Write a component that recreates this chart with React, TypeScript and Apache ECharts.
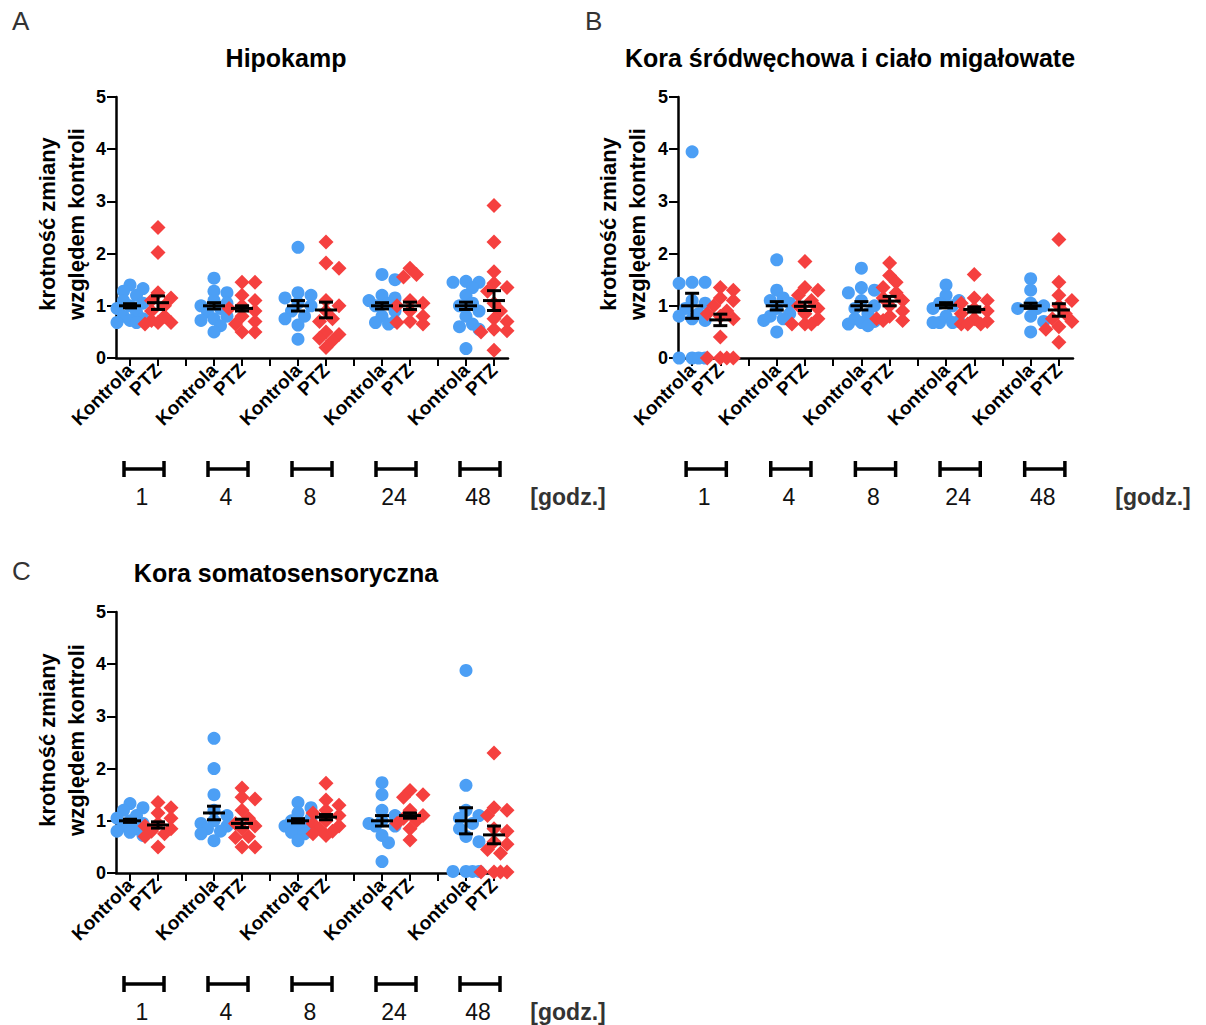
import React, { useEffect, useRef } from "react";
import * as echarts from "echarts";

// ---------- DATA ----------
const timeLabels = ["1", "4", "8", "24", "48"];
const groupLabels = ["Kontrola", "PTZ"];
const panelTitles = ["Hipokamp", "Kora śródwęchowa i ciało migałowate", "Kora somatosensoryczna"];
const panelLetters = ["A", "B", "C"];
const yTitle = "krotność zmiany\nwzględem kontroli";
const unitLabel = "[godz.]";

// Panel A – Hipokamp
const hipKontrola = [
  [1.40, 1.33, 1.28, 1.20, 1.10, 1.05, 1.00, 0.95, 0.88, 0.80, 0.75, 0.72, 0.68, 0.68],
  [1.53, 1.28, 1.25, 1.10, 1.05, 1.00, 0.95, 0.88, 0.80, 0.75, 0.72, 0.62, 0.50],
  [2.12, 1.25, 1.20, 1.15, 1.05, 1.00, 0.90, 0.80, 0.75, 0.63, 0.36],
  [1.60, 1.50, 1.20, 1.15, 1.10, 1.05, 1.00, 0.90, 0.80, 0.70, 0.68, 0.65],
  [1.47, 1.45, 1.45, 1.35, 1.20, 1.05, 1.00, 0.90, 0.80, 0.65, 0.60, 0.55, 0.18],
];
const hipPtz = [
  [2.50, 2.02, 1.25, 1.15, 1.10, 1.00, 0.90, 0.80, 0.72, 0.68, 0.68, 0.65],
  [1.45, 1.45, 1.20, 1.10, 1.00, 0.95, 0.90, 0.80, 0.70, 0.65, 0.50, 0.50],
  [2.22, 1.82, 1.72, 1.10, 1.00, 0.90, 0.75, 0.70, 0.50, 0.45, 0.38, 0.33, 0.20],
  [1.72, 1.60, 1.55, 1.10, 1.05, 1.00, 0.90, 0.80, 0.70, 0.68, 0.65],
  [2.92, 2.22, 1.65, 1.43, 1.35, 1.28, 1.05, 0.90, 0.75, 0.70, 0.55, 0.52, 0.50, 0.15],
];
const hipKontrolaMean = [1.0, 1.0, 1.0, 1.0, 1.0];
const hipKontrolaSem = [0.04, 0.06, 0.10, 0.06, 0.07];
const hipPtzMean = [1.06, 0.95, 0.92, 1.0, 1.10];
const hipPtzSem = [0.13, 0.05, 0.15, 0.07, 0.19];

// Panel B – Kora śródwęchowa i ciało migałowate
const korKontrola = [
  [3.95, 1.45, 1.45, 1.43, 1.10, 1.05, 0.95, 0.85, 0.80, 0.75, 0.72, 0, 0, 0, 0],
  [1.88, 1.30, 1.15, 1.10, 1.05, 0.95, 0.85, 0.80, 0.75, 0.72, 0.50],
  [1.72, 1.35, 1.30, 1.25, 1.10, 1.00, 0.95, 0.85, 0.75, 0.70, 0.68, 0.65, 0.62],
  [1.40, 1.20, 1.10, 1.05, 1.00, 0.95, 0.80, 0.70, 0.68, 0.68, 0.68],
  [1.52, 1.30, 1.05, 1.00, 0.95, 0.95, 0.80, 0.70, 0.50],
];
const korPtz = [
  [1.35, 1.30, 1.15, 1.10, 1.00, 0.90, 0.85, 0.80, 0.75, 0.40, 0, 0, 0, 0],
  [1.85, 1.35, 1.30, 1.20, 1.10, 1.00, 0.95, 0.85, 0.75, 0.65, 0.65, 0.65],
  [1.82, 1.58, 1.45, 1.35, 1.25, 1.15, 1.10, 1.00, 0.90, 0.80, 0.75, 0.72, 0.72],
  [1.60, 1.15, 1.10, 1.05, 0.95, 0.90, 0.85, 0.75, 0.70, 0.65, 0.65, 0.65],
  [2.27, 1.45, 1.20, 1.10, 1.00, 0.85, 0.75, 0.70, 0.60, 0.55, 0.30],
];
const korKontrolaMean = [1.0, 1.0, 1.0, 1.01, 1.0];
const korKontrolaSem = [0.24, 0.08, 0.08, 0.05, 0.05];
const korPtzMean = [0.73, 0.99, 1.09, 0.93, 0.92];
const korPtzSem = [0.11, 0.08, 0.09, 0.05, 0.12];

// Panel C – Kora somatosensoryczna
const somKontrola = [
  [1.33, 1.25, 1.20, 1.10, 1.05, 1.00, 0.95, 0.90, 0.85, 0.80, 0.78, 0.72],
  [2.58, 2.00, 1.50, 1.20, 1.10, 1.00, 0.95, 0.90, 0.85, 0.80, 0.75, 0.62],
  [1.35, 1.25, 1.15, 1.05, 1.00, 0.95, 0.90, 0.85, 0.80, 0.78, 0.75, 0.62],
  [1.73, 1.50, 1.20, 1.10, 1.00, 0.95, 0.90, 0.90, 0.72, 0.58, 0.22],
  [3.88, 1.68, 1.20, 1.10, 1.05, 0.95, 0.85, 0.70, 0.60, 0.03, 0.03, 0.03, 0.03],
];
const somPtz = [
  [1.35, 1.25, 1.15, 1.05, 0.95, 0.90, 0.85, 0.80, 0.75, 0.70, 0.50],
  [1.63, 1.45, 1.42, 1.20, 1.05, 0.95, 0.90, 0.85, 0.70, 0.68, 0.50, 0.50],
  [1.72, 1.40, 1.30, 1.20, 1.15, 1.10, 1.00, 0.95, 0.90, 0.85, 0.80, 0.75, 0.72],
  [1.58, 1.50, 1.45, 1.20, 1.10, 1.05, 1.00, 0.95, 0.85, 0.63],
  [2.30, 1.25, 1.20, 1.10, 0.85, 0.80, 0.60, 0.55, 0.45, 0.38, 0.02, 0.02, 0.02, 0.02],
];
const somKontrolaMean = [1.0, 1.15, 1.0, 1.0, 1.0];
const somKontrolaSem = [0.03, 0.13, 0.04, 0.10, 0.25];
const somPtzMean = [0.92, 0.95, 1.07, 1.10, 0.73];
const somPtzSem = [0.06, 0.08, 0.05, 0.05, 0.17];

const yTicks = [0, 1, 2, 3, 4, 5];

// ---------- LAYOUT / STYLE ----------
const BLUE = "#4c9ff5";
const RED = "#f5403f";
const FONT = "'Liberation Sans', Arial, sans-serif";
const GRIDS = [
  { left: 116, top: 97, width: 392, height: 261 },
  { left: 678, top: 97, width: 395, height: 261 },
  { left: 116, top: 612, width: 392, height: 261 },
];
const TITLE_POS = [[286, 58], [850, 58], [286, 573]];
const LETTER_POS = [[12, 21], [585, 21], [12, 571]];
const YLABEL_POS = [[62, 224], [623, 224], [62, 740]];
const UNIT_POS = [[568, 497], [1153, 497], [568, 1012]];

const panels = [
  { k: hipKontrola, p: hipPtz, km: hipKontrolaMean, ks: hipKontrolaSem, pm: hipPtzMean, ps: hipPtzSem },
  { k: korKontrola, p: korPtz, km: korKontrolaMean, ks: korKontrolaSem, pm: korPtzMean, ps: korPtzSem },
  { k: somKontrola, p: somPtz, km: somKontrolaMean, ks: somKontrolaSem, pm: somPtzMean, ps: somPtzSem },
];

// category slots: K, P, gap, K, P, gap ...
const categories: string[] = [];
timeLabels.forEach((_, i) => {
  categories.push(groupLabels[0], groupLabels[1]);
  if (i < timeLabels.length - 1) categories.push("");
});
const kIndex = (t: number) => t * 3;
const pIndex = (t: number) => t * 3 + 1;

// deterministic column-scatter layout (horizontal spread only)
function swarmOffsets(vals: number[], ppu: number, minDist: number, step: number, maxK: number): number[] {
  const idx = vals.map((_, i) => i).sort((a, b) => vals[b] - vals[a]);
  const placed: { x: number; y: number }[] = [];
  const out = new Array(vals.length).fill(0);
  for (const i of idx) {
    const y = vals[i] * ppu;
    let best = 0;
    let bestScore = Infinity;
    for (let k = 0; k <= maxK; k++) {
      const cand = k === 0 ? 0 : (k % 2 ? 1 : -1) * Math.ceil(k / 2) * step;
      let overlap = 0;
      for (const p of placed) {
        const dd = Math.hypot(p.x - cand, p.y - y);
        if (dd < minDist) overlap += minDist - dd;
      }
      overlap += Math.abs(cand) * 0.05;
      if (overlap < bestScore) {
        bestScore = overlap;
        best = cand;
      }
    }
    out[i] = best;
    placed.push({ x: best, y });
  }
  return out;
}

function scatterData(groups: number[][], idxFn: (t: number) => number, ppu: number) {
  const data: any[] = [];
  groups.forEach((vals, t) => {
    const offs = swarmOffsets(vals, ppu, 9, 6.5, 4);
    vals.forEach((v, i) => {
      data.push({ value: [idxFn(t), v], symbolOffset: [offs[i], 0] });
    });
  });
  return data;
}

function errorRender(params: any, api: any) {
  const x = api.value(0);
  const m = api.value(1);
  const s = api.value(2);
  const c = api.coord([x, m]);
  const top = api.coord([x, m + s]);
  const bot = api.coord([x, m - s]);
  const st = { stroke: "#000", lineWidth: 3 };
  return {
    type: "group",
    children: [
      { type: "line", shape: { x1: c[0] - 11, y1: c[1], x2: c[0] + 11, y2: c[1] }, style: st },
      { type: "line", shape: { x1: c[0], y1: top[1], x2: c[0], y2: bot[1] }, style: st },
      { type: "line", shape: { x1: c[0] - 7, y1: top[1], x2: c[0] + 7, y2: top[1] }, style: st },
      { type: "line", shape: { x1: c[0] - 7, y1: bot[1], x2: c[0] + 7, y2: bot[1] }, style: st },
    ],
  };
}

export default function App() {
  const ref = useRef<HTMLDivElement>(null);
  useEffect(() => {
    document.body.style.margin = "0";
    if (!ref.current) return;
    const chart = echarts.init(ref.current, undefined, { renderer: "svg" });

    const grid = GRIDS.map((g) => ({ ...g, containLabel: false }));
    const xAxis = GRIDS.map((_, i) => ({
      type: "category",
      gridIndex: i,
      data: categories,
      boundaryGap: true,
      axisLine: { show: true, lineStyle: { color: "#000", width: 2.5 } },
      axisTick: { show: true, alignWithLabel: true, interval: 0, length: 8, lineStyle: { color: "#000", width: 2 } },
      axisLabel: {
        interval: 0,
        rotate: 45,
        margin: 9,
        color: "#000",
        fontWeight: "bold",
        fontSize: 19,
        fontFamily: FONT,
      },
      splitLine: { show: false },
    }));
    const yAxis = GRIDS.map((_, i) => ({
      type: "value",
      gridIndex: i,
      min: yTicks[0],
      max: yTicks[yTicks.length - 1],
      interval: 1,
      axisLine: { show: true, lineStyle: { color: "#000", width: 2.5 } },
      axisTick: { show: true, length: 9, lineStyle: { color: "#000", width: 2 } },
      axisLabel: { show: false },
      splitLine: { show: false },
    }));

    const series: any[] = [];
    panels.forEach((pn, i) => {
      const ppu = GRIDS[i].height / (yTicks[yTicks.length - 1] - yTicks[0]);
      series.push({
        type: "scatter",
        xAxisIndex: i,
        yAxisIndex: i,
        symbol: "circle",
        symbolSize: 13,
        itemStyle: { color: BLUE, opacity: 1 },
        clip: false,
        data: scatterData(pn.k, kIndex, ppu),
        z: 2,
      });
      series.push({
        type: "scatter",
        xAxisIndex: i,
        yAxisIndex: i,
        symbol: "diamond",
        symbolSize: 15,
        itemStyle: { color: RED, opacity: 1 },
        clip: false,
        data: scatterData(pn.p, pIndex, ppu),
        z: 2,
      });
      const eb: any[] = [];
      timeLabels.forEach((_, t) => {
        eb.push([kIndex(t), pn.km[t], pn.ks[t]]);
        eb.push([pIndex(t), pn.pm[t], pn.ps[t]]);
      });
      series.push({
        type: "custom",
        xAxisIndex: i,
        yAxisIndex: i,
        renderItem: errorRender,
        encode: { x: 0, y: 1 },
        data: eb,
        clip: false,
        z: 5,
      });
    });

    chart.setOption({
      animation: false,
      backgroundColor: "#fff",
      grid,
      xAxis,
      yAxis,
      series,
    });

    // annotations
    const graphic: any[] = [];
    GRIDS.forEach((g, i) => {
      // y tick labels placed through the axis scale
      yTicks.forEach((v) => {
        const py = chart.convertToPixel({ yAxisIndex: i }, v) as number;
        graphic.push({
          type: "text",
          x: g.left - 10,
          y: py,
          style: { text: String(v), fontSize: 18, fontWeight: "bold", fontFamily: FONT, fill: "#000", align: "right", verticalAlign: "middle" },
        });
      });
      graphic.push({
        type: "text",
        x: TITLE_POS[i][0],
        y: TITLE_POS[i][1],
        style: { text: panelTitles[i], fontSize: 25, fontWeight: "bold", fontFamily: FONT, fill: "#000", align: "center", verticalAlign: "middle" },
      });
      graphic.push({
        type: "text",
        x: LETTER_POS[i][0],
        y: LETTER_POS[i][1],
        style: { text: panelLetters[i], fontSize: 26, fontFamily: FONT, fill: "#333", align: "left", verticalAlign: "middle" },
      });
      graphic.push({
        type: "text",
        x: YLABEL_POS[i][0],
        y: YLABEL_POS[i][1],
        rotation: Math.PI / 2,
        style: {
          text: yTitle,
          fontSize: 22,
          fontWeight: "bold",
          fontFamily: FONT,
          fill: "#000",
          align: "center",
          verticalAlign: "middle",
          lineHeight: 29,
        },
      });
      graphic.push({
        type: "text",
        x: UNIT_POS[i][0],
        y: UNIT_POS[i][1],
        style: { text: unitLabel, fontSize: 23, fontWeight: "bold", fontFamily: FONT, fill: "#333", align: "center", verticalAlign: "middle" },
      });
      const axisY = g.top + g.height;
      timeLabels.forEach((lab, t) => {
        const xk = chart.convertToPixel({ xAxisIndex: i }, kIndex(t)) as number;
        const xp = chart.convertToPixel({ xAxisIndex: i }, pIndex(t)) as number;
        const by = axisY + 111;
        const st = { stroke: "#000", lineWidth: 3.5 };
        graphic.push({ type: "line", shape: { x1: xk - 6, y1: by, x2: xp + 6, y2: by }, style: st });
        graphic.push({ type: "line", shape: { x1: xk - 6, y1: by - 8, x2: xk - 6, y2: by + 8 }, style: st });
        graphic.push({ type: "line", shape: { x1: xp + 6, y1: by - 8, x2: xp + 6, y2: by + 8 }, style: st });
        graphic.push({
          type: "text",
          x: (xk + xp) / 2 - 2,
          y: axisY + 139,
          style: { text: lab, fontSize: 23, fontFamily: FONT, fill: "#111", align: "center", verticalAlign: "middle" },
        });
      });
    });
    chart.setOption({ graphic });

    return () => chart.dispose();
  }, []);
  return <div ref={ref} style={{ width: 1206, height: 1025 }} />;
}
